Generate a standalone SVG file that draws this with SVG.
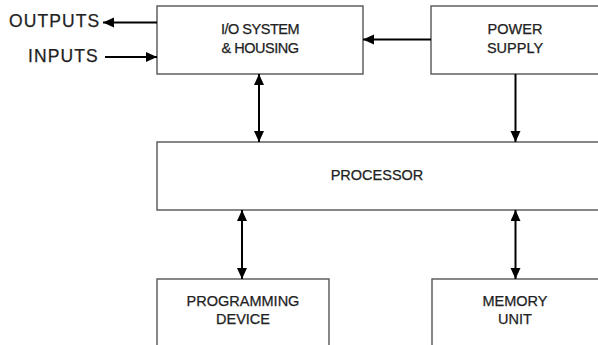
<svg xmlns="http://www.w3.org/2000/svg" width="598" height="345" viewBox="0 0 598 345">
  <defs>
    <marker id="head" markerUnits="userSpaceOnUse" markerWidth="12" markerHeight="11" refX="11" refY="5" orient="auto-start-reverse">
      <path d="M0,0 L11,5 L0,10 z" fill="#000"/>
    </marker>
    <style>
      .box { fill: #fff; stroke: #555; stroke-width: 1.4; }
      .lbl { font-family: "Liberation Sans", Arial, sans-serif; font-size: 14.5px; fill: #222; stroke: #222; stroke-width: 0.25; text-anchor: middle; }
      .tight { letter-spacing: -0.5px; }
      .io { font-family: "Liberation Sans", Arial, sans-serif; font-size: 17.5px; fill: #222; stroke: #222; stroke-width: 0.25; letter-spacing: 1.1px; }
      .wire { stroke: #000; stroke-width: 2; fill: none; }
    </style>
  </defs>

  <rect width="598" height="345" fill="#fff"/>

  <g id="io-system">
    <rect class="box" x="157" y="6" width="206" height="68"/>
    <text class="lbl tight" x="260" y="34">I/O SYSTEM</text>
    <text class="lbl tight" x="260" y="53">&amp; HOUSING</text>
  </g>

  <g id="power-supply">
    <rect class="box" x="431" y="6" width="172" height="68"/>
    <text class="lbl" x="515" y="34">POWER</text>
    <text class="lbl" x="515" y="53">SUPPLY</text>
  </g>

  <g id="processor">
    <rect class="box" x="157" y="142" width="446" height="68"/>
    <text class="lbl" x="377" y="180">PROCESSOR</text>
  </g>

  <g id="programming-device">
    <rect class="box" x="157" y="279" width="172" height="80"/>
    <text class="lbl" x="243" y="306">PROGRAMMING</text>
    <text class="lbl" x="243" y="324">DEVICE</text>
  </g>

  <g id="memory-unit">
    <rect class="box" x="432" y="279" width="171" height="80"/>
    <text class="lbl" x="515" y="306">MEMORY</text>
    <text class="lbl" x="515" y="324">UNIT</text>
  </g>

  <g id="outputs">
    <text class="io" x="9" y="27">OUTPUTS</text>
  </g>
  <g id="inputs">
    <text class="io" x="28" y="62">INPUTS</text>
  </g>

  <g id="connectors">
    <line class="wire" x1="157" y1="22.5" x2="103" y2="22.5" marker-end="url(#head)"/>
    <line class="wire" x1="105" y1="57" x2="157" y2="57" marker-end="url(#head)"/>
    <line class="wire" x1="431" y1="39.5" x2="363" y2="39.5" marker-end="url(#head)"/>
    <line class="wire" x1="259" y1="74" x2="259" y2="142" marker-start="url(#head)" marker-end="url(#head)"/>
    <line class="wire" x1="515.5" y1="74" x2="515.5" y2="142" marker-end="url(#head)"/>
    <line class="wire" x1="242" y1="210" x2="242" y2="279" marker-start="url(#head)" marker-end="url(#head)"/>
    <line class="wire" x1="515.5" y1="210" x2="515.5" y2="279" marker-start="url(#head)" marker-end="url(#head)"/>
  </g>
</svg>
